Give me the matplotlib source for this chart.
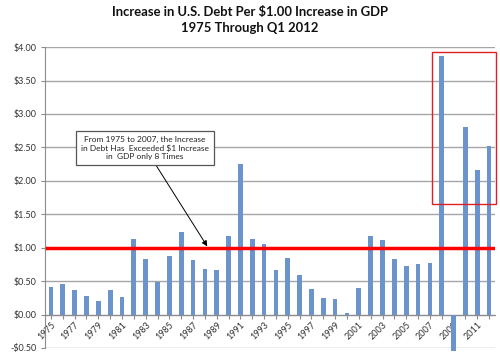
import matplotlib
matplotlib.use("Agg")
import matplotlib.pyplot as plt
from matplotlib.patches import Rectangle
from matplotlib.ticker import FuncFormatter, MultipleLocator

plt.rcParams['text.parse_math'] = False
plt.rcParams['font.family'] = ['Lato', 'DejaVu Sans']

years = list(range(1975, 2013))
values = [0.41, 0.46, 0.37, 0.27, 0.20, 0.36, 0.26, 1.13, 0.83, 0.49,
          0.87, 1.24, 0.81, 0.68, 0.67, 1.17, 2.25, 1.13, 1.06, 0.67,
          0.85, 0.585, 0.38, 0.245, 0.23, 0.025, 0.39, 1.17, 1.11, 0.83,
          0.72, 0.76, 0.765, 3.87, -0.55, 2.80, 2.16, 2.52]
tick_labels = [str(y) if (y - 1975) % 2 == 0 else '' for y in years]
threshold = 1.00
title = "Increase in U.S. Debt Per $1.00 Increase in GDP\n1975 Through Q1 2012"
note = "From 1975 to 2007, the Increase\nin Debt Has  Exceeded $1 Increase\nin  GDP only 8 Times"

fig = plt.figure(figsize=(5.0, 3.54), dpi=100)
ax = fig.add_axes([0.09, 0.017, 0.90, 0.85])

x = list(range(len(years)))
bars = ax.bar(x, values, width=0.4, color='#6b93cc', zorder=3)
for b in bars:
    b.set_clip_on(False)

ax.set_xlim(-0.5, len(years) - 0.5)
ax.set_ylim(-0.5, 4.0)
ax.yaxis.set_major_locator(MultipleLocator(0.5))
ax.yaxis.set_major_formatter(FuncFormatter(lambda v, p: ('-$%.2f' % abs(v)) if v < 0 else ('$%.2f' % v)))
ax.grid(axis='y', color='#a6a6a6', linewidth=1.0, zorder=0)
ax.set_axisbelow(True)

ax.spines['top'].set_visible(False)
ax.spines['right'].set_visible(False)
ax.spines['bottom'].set_position(('data', 0))
ax.spines['bottom'].set_color('#8c8c8c')
ax.spines['left'].set_color('#8c8c8c')

ax.set_xticks(x)
ax.set_xticklabels(tick_labels, rotation=45, ha='right', rotation_mode='anchor',
                   fontsize=6.5, color='#333333')
ax.tick_params(axis='x', length=3, color='#8c8c8c', pad=1)
ax.tick_params(axis='y', length=3, color='#8c8c8c', labelsize=6.5, labelcolor='#333333', pad=3)

ax.axhline(threshold, xmin=0.005, xmax=1.0, color='#ff0000', linewidth=2.5, zorder=4)

ax.add_patch(Rectangle((32.18, 1.65), 37.6 - 32.18, 3.93 - 1.65, fill=False,
                       edgecolor='#e02020', linewidth=1.0, zorder=5, clip_on=False))

ax.annotate(note, xy=(13.2, 1.02), xytext=(7.96, 2.49), textcoords='data',
            ha='center', va='center', fontsize=6.0, color='#222222', zorder=6,
            bbox=dict(boxstyle='square,pad=0.6', facecolor='white', edgecolor='#555555', linewidth=0.9),
            arrowprops=dict(arrowstyle='-|>', color='black', linewidth=0.7,
                            mutation_scale=8, shrinkA=0, shrinkB=0))

fig.suptitle(title, fontsize=9.4, fontweight='bold', y=0.982, linespacing=1.35, color='#111111')

fig.savefig('out.png', dpi=100)
